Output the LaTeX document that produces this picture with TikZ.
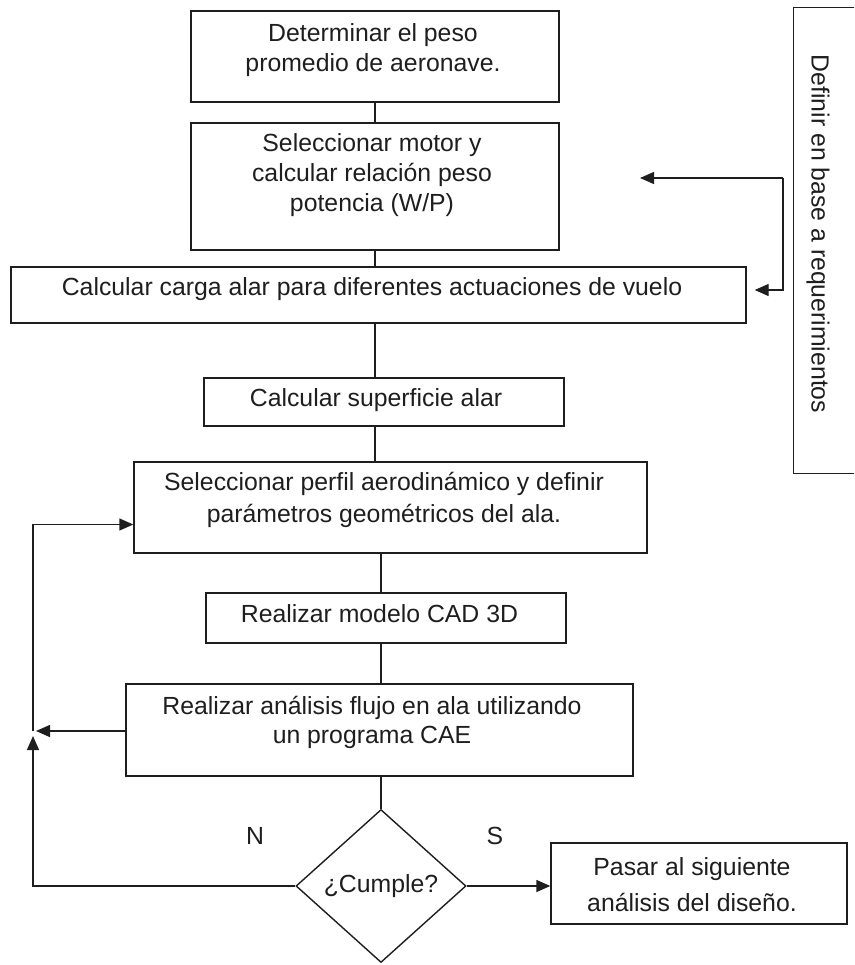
\documentclass[tikz,border=0pt]{standalone}
\usepackage{fontspec}
\setmainfont{Liberation Sans}
\usetikzlibrary{arrows.meta,shapes.geometric,calc}
\definecolor{ink}{RGB}{30,30,30}
\begin{document}
\begin{tikzpicture}[x=1pt,y=-1pt,
  box/.style={draw=ink,line width=1.4pt,rectangle,inner sep=0pt},
  txt/.style={text=ink,align=center,inner sep=0pt,font=\fontsize{24.8}{30}\selectfont},
  arr/.style={draw=ink,line width=1.4pt,-{Triangle[length=14pt,width=12pt]}},
  con/.style={draw=ink,line width=1.4pt}]
\useasboundingbox (0,0) rectangle (854,965);
\clip (0,0) rectangle (854,965);
% boxes
\node[box,minimum width=368pt,minimum height=91pt] (b1) at (375,56.5) {};
\node[box,minimum width=368pt,minimum height=127pt] (b2) at (375,186.5) {};
\node[box,minimum width=735pt,minimum height=56pt] (b3) at (378.5,295) {};
\node[box,minimum width=360pt,minimum height=48pt] (b4) at (384,402) {};
\node[box,minimum width=513pt,minimum height=91pt] (b5) at (390.5,507.5) {};
\node[box,minimum width=360pt,minimum height=50pt] (b6) at (386,618) {};
\node[box,minimum width=507pt,minimum height=92pt] (b7) at (379.5,730) {};
\node[box,minimum width=296pt,minimum height=81pt] (b8) at (699,883.5) {};
\node[box,minimum width=100pt,minimum height=466pt,anchor=north west] (rb) at (793,7) {};
\node[draw=ink,line width=1.4pt,diamond,minimum width=170pt,minimum height=153pt,inner sep=0pt,
      text=ink,font=\fontsize{24.8}{30}\selectfont] (d) at (381,886) {¿Cumple?};
% texts
\node[txt] (t1) at (373,50) {Determinar el peso\\promedio de aeronave.};
\node[txt] (t2) at (372,175) {Seleccionar motor y\\calcular relación peso\\potencia (W/P)};
\node[txt] (t3) at (372,289) {Calcular carga alar para diferentes actuaciones de vuelo};
\node[txt] (t4) at (376,400) {Calcular superficie alar};
\node[txt,font=\fontsize{24.8}{31.5}\selectfont] (t5) at (384,500) {Seleccionar perfil aerodinámico y definir\\parámetros geométricos del ala.};
\node[txt] (t6) at (379.5,614) {Realizar modelo CAD 3D};
\node[txt,font=\fontsize{24.8}{29}\selectfont] (t7) at (372,722.5) {Realizar análisis flujo en ala utilizando\\un programa CAE};
\node[txt,font=\fontsize{24.8}{36}\selectfont] (t8) at (692,885) {Pasar al siguiente\\análisis del diseño.};
\node[txt,rotate=-90] (rt) at (818,234) {Definir en base a requerimientos};
\node[txt] (n) at (255,836) {N};
\node[txt] (s) at (495,836) {S};
% vertical connectors
\draw[con] (b1.south) -- (b2.north);
\draw[con] (b2.south) -- (b2.south |- b3.north);
\draw[con] (b3.south -| b1.south) -- (b4.north -| b1.south);
\draw[con] (b4.south -| b1.south) -- (b5.north -| b1.south);
\draw[con] (b5.south -| d.north) -- (b6.north -| d.north);
\draw[con] (b6.south -| d.north) -- (b7.north -| d.north);
\draw[con] (b7.south -| d.north) -- (d.north);
% yes branch
\draw[arr] (d.east) -- (d.east -| b8.west);
% no branch / loop
\coordinate (lj) at (33,731);
\coordinate (lup) at (33,736);
\coordinate (lleft) at (36,731);
\draw[arr] (d.west) -| (lup);
\draw[arr] (b7.west |- lj) -- (lleft);
\draw[arr] (lj) |- ($(b5.west)+(0,17)$);
% right side arrows
\coordinate (rj) at (783,178);
\coordinate (fa) at (640,178);
\draw[arr] (rj) -- (fa);
\draw[arr] (rj) |- ($(b3.east)+(8,-5)$);
\end{tikzpicture}
\end{document}
